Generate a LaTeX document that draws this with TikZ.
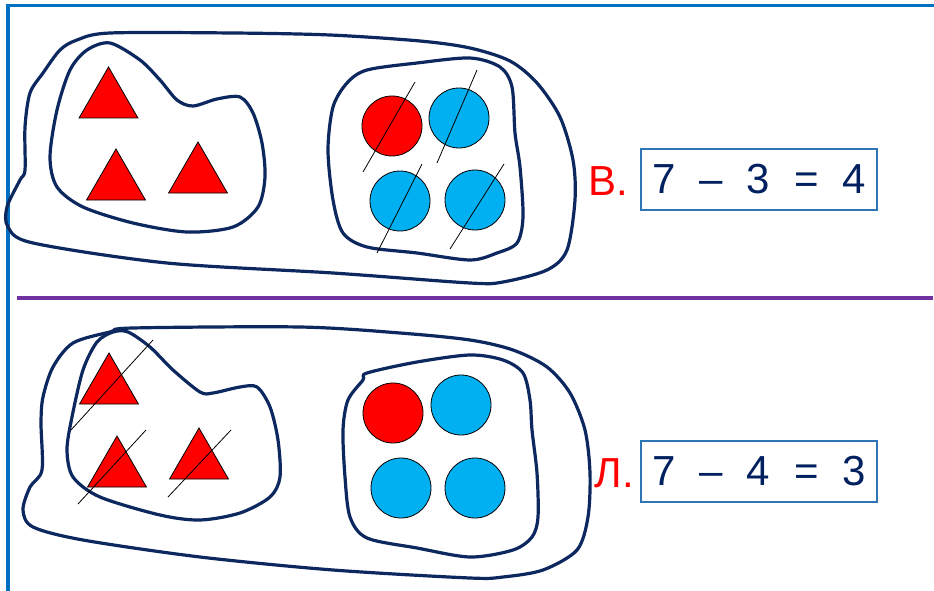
\documentclass[tikz,border=0pt]{standalone}
\usepackage{fontspec}
\setmainfont{Liberation Sans}
\usetikzlibrary{positioning,shapes.geometric}
\definecolor{framecol}{HTML}{0070C0}
\definecolor{rulecol}{HTML}{7030A0}
\definecolor{navy}{HTML}{0C285F}
\definecolor{eqcol}{HTML}{002060}
\definecolor{boxcol}{HTML}{2E75B6}
\definecolor{ballblue}{HTML}{00B0F0}
\definecolor{ballred}{HTML}{FF0000}
\begin{document}
\begin{tikzpicture}[x=1pt, y=-1pt]

		\tikzstyle{blob} = [draw=navy, line width=3.2pt]
		\tikzstyle{redtri} = [draw=black, fill=ballred, regular polygon, regular polygon sides=3, minimum size=68pt, inner sep=0pt, line width=0.8pt]
		\tikzstyle{ball} = [draw=black, circle, minimum size=60pt, inner sep=0pt, line width=0.8pt]
		\tikzstyle{strike} = [draw=black, line width=0.8pt]
		\tikzstyle{eqbox} = [draw=boxcol, line width=1.2pt, minimum width=236pt, minimum height=61pt, inner sep=0pt, text=eqcol, font=\fontsize{42}{48}\selectfont]
		\tikzstyle{letter} = [text=ballred, anchor=base east, inner sep=0pt, font=\fontsize{42}{48}\selectfont]

		\useasboundingbox (0,0) rectangle (934,591);
		\fill[white] (0,0) rectangle (934,591);

		\draw[framecol, line width=3.4pt] (8,600) |- (940,5.5);
		\draw[rulecol, line width=3.4pt] (17,298) -- (933,298);

		% upper half
		\draw[blob] plot[smooth cycle, tension=0.5] coordinates {(77,40) (110,33) (233,33) (330,35) (420,41) (470,48) (510,61) (537,83) (560,117) (573,160) (575,200) (567,250) (547,270) (503,282) (470,283) (333,273) (167,263) (33,243) (8,227) (7,207) (20,180) (25,170) (25,127) (30,93) (43,73) (60,50)};
		\draw[blob] plot[smooth cycle, tension=0.5] coordinates {(110,43) (140,60) (160,80) (177,100) (193,106) (217,99) (240,97) (253,113) (262,143) (265,177) (258,207) (233,227) (187,232) (133,223) (83,207) (57,187) (50,157) (57,110) (70,70) (87,50)};
		\draw[blob] plot[smooth cycle, tension=0.5] coordinates {(367,70) (417,63) (470,58) (500,67) (512,87) (515,133) (520,167) (523,217) (517,243) (497,253) (470,260) (417,253) (367,247) (343,233) (333,200) (328,150) (333,107) (347,83)};

		\node[redtri] (tri_a) at (108.5,101) {};
		\node[redtri] (tri_b) at (116,183) {};
		\node[redtri] (tri_c) at (198,176) {};

		\node[ball, fill=ballred] (ball_a) at (392,126) {};
		\node[ball, fill=ballblue] (ball_b) at (459,118) {};
		\node[ball, fill=ballblue] (ball_c) at (400,201) {};
		\node[ball, fill=ballblue] (ball_d) at (475,200) {};

		\draw[strike] (415,82) -- (363,172);
		\draw[strike] (477,70) -- (437,163);
		\draw[strike] (422,164) -- (377,253);
		\draw[strike] (504,164) -- (450,249);

		\node[eqbox] (eq_top) at (759,179.5) {7\hspace{24pt}–\hspace{24pt}3\hspace{24pt}=\hspace{24pt}4};
		\node[letter] (lab_top) at (628,195) {В.};

		% lower half
		\draw[blob] plot[smooth cycle, tension=0.5] coordinates {(110,332) (133,328) (300,327) (400,333) (470,340) (513,350) (547,367) (570,393) (585,430) (590,473) (588,517) (577,550) (543,570) (503,577) (470,578) (333,570) (200,557) (83,540) (33,527) (23,510) (30,487) (42,470) (41,423) (43,397) (53,367) (73,343)};
		\draw[blob] plot[smooth cycle, tension=0.5] coordinates {(128,332) (150,347) (173,370) (200,392) (213,393) (240,387) (257,387) (270,407) (278,440) (280,477) (270,497) (240,513) (200,520) (160,515) (100,497) (73,477) (67,450) (72,417) (83,370) (97,342) (113,332)};
		\draw[blob] plot[smooth cycle, tension=0.5] coordinates {(367,373) (417,362) (470,355) (503,360) (523,373) (530,400) (532,430) (537,473) (538,517) (532,537) (513,550) (470,557) (417,548) (367,538) (350,517) (345,477) (343,430) (348,400) (363,380)};

		\node[redtri] (tri_d) at (109,387) {};
		\node[redtri] (tri_e) at (117,470) {};
		\node[redtri] (tri_f) at (199,462) {};

		\node[ball, fill=ballred] (ball_e) at (393,413) {};
		\node[ball, fill=ballblue] (ball_f) at (461,405) {};
		\node[ball, fill=ballblue] (ball_g) at (401,488) {};
		\node[ball, fill=ballblue] (ball_h) at (475,488) {};

		\draw[strike] (153,340) -- (71,430);
		\draw[strike] (146,430) -- (78,504);
		\draw[strike] (231,430) -- (168,497);

		\node[eqbox] (eq_bot) at (759,471.5) {7\hspace{24pt}–\hspace{24pt}4\hspace{24pt}=\hspace{24pt}3};
		\node[letter] (lab_bot) at (634,487) {Л.};

	\end{tikzpicture}
\end{document}
